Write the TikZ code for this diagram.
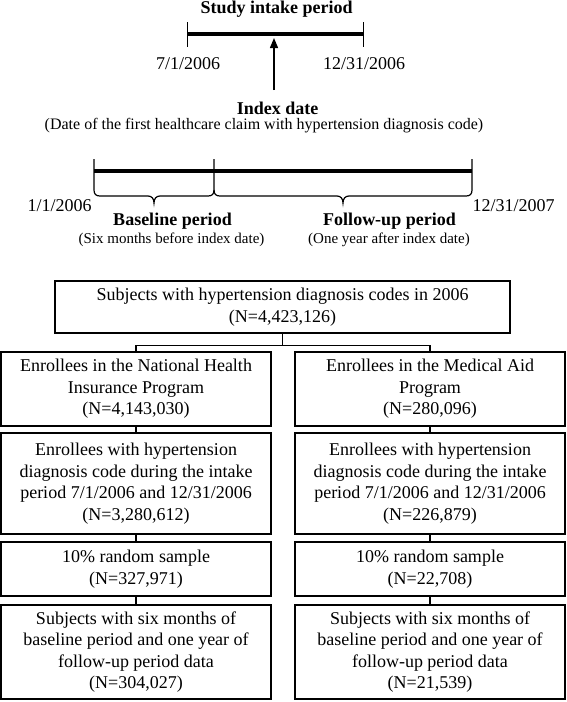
\documentclass[tikz,border=0pt]{standalone}
\usepackage{fontspec}
\setmainfont{Liberation Serif}
\usetikzlibrary{arrows.meta}

\begin{document}
\begin{tikzpicture}[x=1pt,y=-1pt,
    box/.style={draw,line width=1.3pt,align=center,inner sep=0pt,font=\fontsize{18}{21.5}\selectfont},
    date/.style={anchor=base,inner sep=0pt,font=\fontsize{18}{21.5}\selectfont},
    heading/.style={anchor=base,inner sep=0pt,font=\fontsize{18}{21.5}\selectfont\bfseries},
    note/.style={anchor=base,inner sep=0pt,font=\fontsize{15}{18}\selectfont}]
    \useasboundingbox (0,0) rectangle (567,702);

    % study intake period
    \coordinate (s1) at (187.5,34);
    \coordinate (s2) at (363.5,34);
    \coordinate (idx) at (274,90);
    \draw[line width=4pt] (s1)--(s2);
    \draw[line width=1.3pt] (187.5,22)--(187.5,47);
    \draw[line width=1.3pt] (363.5,22)--(363.5,47);
    \draw[line width=1.3pt,-{Triangle[width=8pt,length=10pt]}] (idx)--(274,38);
    \node[heading] (study) at (276.7,13.5) {Study intake period};
    \node[date] (d1) at (188,69) {7/1/2006};
    \node[date] (d2) at (364,69) {12/31/2006};
    \node[heading] (index) at (277.6,114) {Index date};
    \node[note,font=\fontsize{16}{19}\selectfont] (indexnote) at (264,129) {(Date of the first healthcare claim with hypertension diagnosis code)};

    % baseline and follow-up periods
    \coordinate (b1) at (94,171);
    \coordinate (b2) at (214,171);
    \coordinate (b3) at (472,171);
    \draw[line width=4pt] (b1)--(b3);
    \draw[line width=1.2pt] (94,159) -- (94,190) .. controls (94,194) and (96,196) .. (100,196) -- (148,196)
        .. controls (152,196) and (154,199) .. (154,203) .. controls (154,199) and (156,196) .. (160,196) -- (208,196)
        .. controls (212,196) and (214,194) .. (214,190) -- (214,159);
    \draw[line width=1.2pt] (214,190) .. controls (214,194) and (216,196) .. (220,196) -- (337,196)
        .. controls (341,196) and (343,199) .. (343,203) .. controls (343,199) and (345,196) .. (349,196) -- (466,196)
        .. controls (470,196) and (472,194) .. (472,190) -- (472,159);
    \node[date] (d3) at (59.7,211) {1/1/2006};
    \node[date] (d4) at (513.6,211) {12/31/2007};
    \node[heading] (base) at (172.5,225) {Baseline period};
    \node[note] (basenote) at (171.5,243) {(Six months before index date)};
    \node[heading] (follow) at (389.5,225) {Follow-up period};
    \node[note] (follownote) at (389,243) {(One year after index date)};

    % flow chart
    \node[box,minimum width=455pt,minimum height=52pt] (all) at (282.5,307) {Subjects with hypertension diagnosis codes in 2006\\(N=4,423,126)};

    \node[box,minimum width=270pt,minimum height=74pt] (nhi) at (136,389) {Enrollees in the National Health\\Insurance Program\\(N=4,143,030)};
    \node[box,minimum width=270pt,minimum height=101pt] (nhi2) at (136,483.5) {Enrollees with hypertension\\diagnosis code during the intake\\period 7/1/2006 and 12/31/2006\\(N=3,280,612)};
    \node[box,minimum width=270pt,minimum height=54pt] (nhi3) at (136,569) {10\% random sample\\(N=327,971)};
    \node[box,minimum width=270pt,minimum height=94pt] (nhi4) at (136,652) {Subjects with six months of\\baseline period and one year of\\follow-up period data\\(N=304,027)};

    \node[box,minimum width=270pt,minimum height=74pt] (aid) at (430,389) {Enrollees in the Medical Aid\\Program\\(N=280,096)};
    \node[box,minimum width=270pt,minimum height=101pt] (aid2) at (430,483.5) {Enrollees with hypertension\\diagnosis code during the intake\\period 7/1/2006 and 12/31/2006\\(N=226,879)};
    \node[box,minimum width=270pt,minimum height=54pt] (aid3) at (430,569) {10\% random sample\\(N=22,708)};
    \node[box,minimum width=270pt,minimum height=94pt] (aid4) at (430,652) {Subjects with six months of\\baseline period and one year of\\follow-up period data\\(N=21,539)};

    \draw[line width=1.3pt] (all.south) -- ++(0,12) coordinate (split);
    \draw[line width=1.3pt] (split) -| (nhi.north);
    \draw[line width=1.3pt] (split) -| (aid.north);
    \draw[line width=1.3pt] (nhi.south) -- (nhi2.north);
    \draw[line width=1.3pt] (nhi2.south) -- (nhi3.north);
    \draw[line width=1.3pt] (nhi3.south) -- (nhi4.north);
    \draw[line width=1.3pt] (aid.south) -- (aid2.north);
    \draw[line width=1.3pt] (aid2.south) -- (aid3.north);
    \draw[line width=1.3pt] (aid3.south) -- (aid4.north);
\end{tikzpicture}
\end{document}
